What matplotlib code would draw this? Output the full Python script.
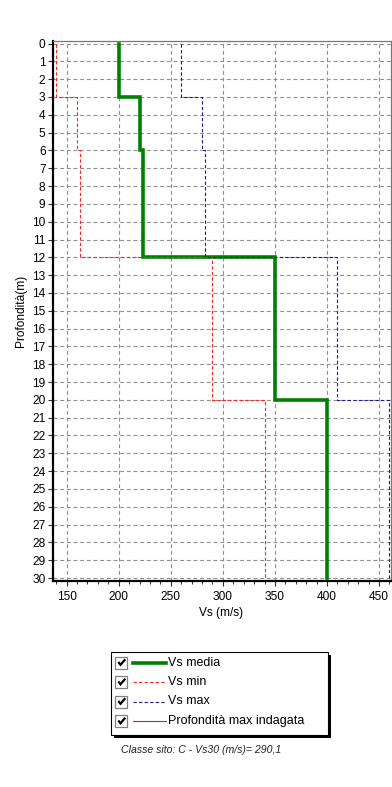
import numpy as np
import matplotlib
matplotlib.use("Agg")
import matplotlib.pyplot as plt
from matplotlib.patches import Rectangle

plt.rcParams['font.family'] = ['Liberation Sans', 'DejaVu Sans']

# Layer boundaries (m) and shear-wave velocities (m/s)
depth_bounds = [0, 3, 6, 12, 20, 30]
vs_media = [200, 220, 223, 350, 400]
vs_min = [140, 160, 163, 290, 340]
vs_max = [260, 280, 283, 410, 460]

y_ticks = list(range(0, 31))
x_ticks = [150, 200, 250, 300, 350, 400, 450]

legend_labels = ["Vs media", "Vs min", "Vs max", "Profondità max indagata"]
caption = "Classe sito: C - Vs30 (m/s)= 290,1"


def step_profile(bounds, values):
    xs = np.repeat(values, 2)
    ys = np.concatenate([[bounds[0]], np.repeat(bounds[1:-1], 2), [bounds[-1]]])
    return xs, ys


W, H = 392, 787
fig = plt.figure(figsize=(W / 100, H / 100), dpi=100)

ax = fig.add_axes([52.5 / W, 1 - 580.5 / H, 338 / W, 540 / H])
ax.set_xlim(136.4, 461)
ax.set_ylim(30.14, -0.17)

green = "#008000"
red = "#ff2020"
blue = "#1a1a8c"
maroon = "#993366"

xm, ym = step_profile(depth_bounds, vs_media)
ax.plot(xm, ym, color=green, lw=2.6, solid_joinstyle="miter", zorder=3)
xn, yn = step_profile(depth_bounds, vs_min)
ax.plot(xn, yn, color=red, lw=0.8, ls=(0, (3, 2)), zorder=4)
xx, yx = step_profile(depth_bounds, vs_max)
ax.plot(xx, yx, color=blue, lw=0.8, ls=(0, (3, 2)), zorder=4)

fs = 8.6
ax.set_yticks(y_ticks)
ax.set_xticks(x_ticks)
ax.set_xticks(np.arange(140, 461, 10), minor=True)
ax.grid(True, which="major", color="#909090", ls=(0, (3.5, 2.5)), lw=0.8)
ax.tick_params(axis="both", which="major", labelsize=fs, length=3.5, width=0.8, colors="#333333", labelcolor="black")
ax.tick_params(axis="x", which="minor", length=2, width=0.7, colors="#333333")
ax.tick_params(axis="y", pad=1.5)
ax.tick_params(axis="x", pad=4)

for side in ("left", "bottom"):
    ax.spines[side].set_linewidth(1.6)
    ax.spines[side].set_color("black")
for side in ("top", "right"):
    ax.spines[side].set_linewidth(0.9)
    ax.spines[side].set_color("#777777")

ax.set_ylabel("Profondità(m)", fontsize=fs, labelpad=4)
ax.set_xlabel("Vs (m/s)", fontsize=fs, labelpad=3)

# Overlay in pixel units for the legend box and caption
ov = fig.add_axes([0, 0, 1, 1], zorder=10)
ov.set_xlim(0, W)
ov.set_ylim(H, 0)
ov.axis("off")
ov.patch.set_alpha(0)

bx0, by0, bx1, by1 = 111, 652, 328, 735
ov.add_patch(Rectangle((bx0 + 3, by0 + 3), bx1 - bx0, by1 - by0, facecolor="black", edgecolor="none"))
ov.add_patch(Rectangle((bx0, by0), bx1 - bx0, by1 - by0, facecolor="white", edgecolor="black", lw=0.8))

row_y = [662.5, 682, 701.5, 721]
styles = [
    dict(color=green, lw=2.6),
    dict(color=red, lw=0.8, ls=(0, (3, 2))),
    dict(color=blue, lw=0.8, ls=(0, (3, 2))),
    dict(color=maroon, lw=0.8),
]
for yy, label, st in zip(row_y, legend_labels, styles):
    # checkbox
    ov.add_patch(Rectangle((115.5, yy - 6), 12, 12, facecolor="white", edgecolor="#808080", lw=0.9))
    ov.plot([118.3, 120.5, 125.3], [yy - 0.5, yy + 2.3, yy - 3.3], color="black", lw=1.6,
            solid_capstyle="butt", solid_joinstyle="miter")
    ov.plot([133, 166], [yy, yy], **st)
    ov.text(168, yy, label, fontsize=9.0, va="center", ha="left")

ov.text(201, 750, caption, fontsize=7.6, style="italic", ha="center", va="center", color="#222222")

fig.savefig("out.png", dpi=100)
